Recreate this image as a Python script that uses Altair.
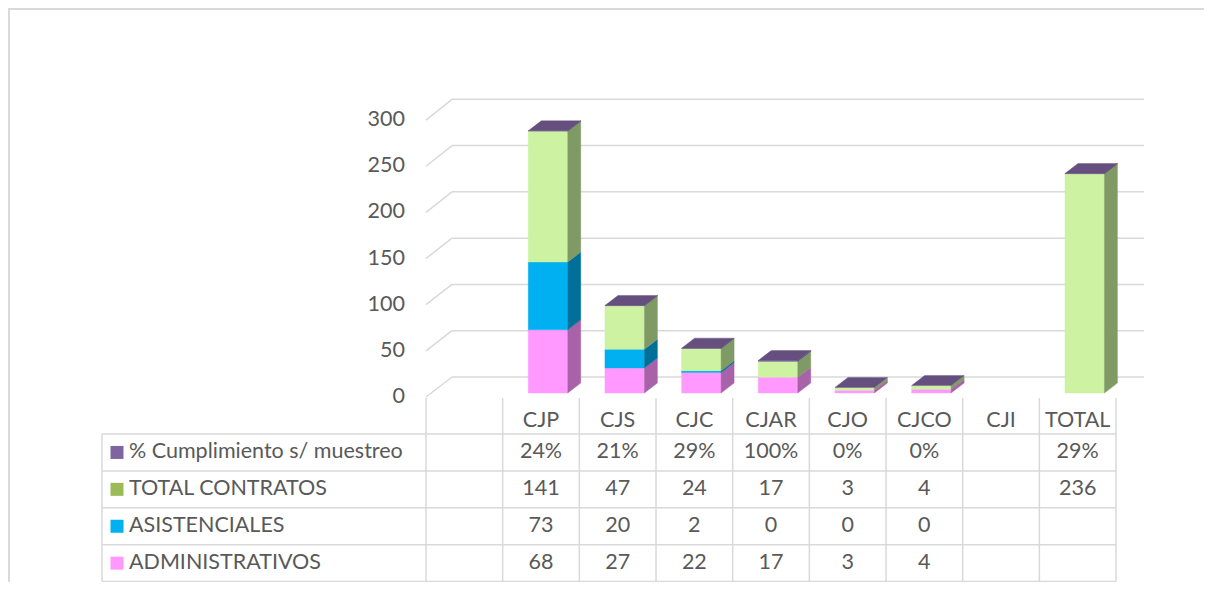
import altair as alt
import pandas as pd

# ---------------- data ----------------
categories = ["", "CJP", "CJS", "CJC", "CJAR", "CJO", "CJCO", "CJI", "TOTAL"]
administrativos = [None, 68, 27, 22, 17, 3, 4, None, None]
asistenciales = [None, 73, 20, 2, 0, 0, 0, None, None]
total_contratos = [None, 141, 47, 24, 17, 3, 4, None, 236]
cumplimiento = [None, 0.24, 0.21, 0.29, 1.00, 0.00, 0.00, None, 0.29]
y_ticks = [0, 50, 100, 150, 200, 250, 300]

# stacking order (bottom -> top)
stack_names = ["ADMINISTRATIVOS", "ASISTENCIALES", "TOTAL CONTRATOS", "% Cumplimiento s/ muestreo"]
stack_values = [administrativos, asistenciales, total_contratos, cumplimiento]
# data-table row order (top -> bottom)
table_names = ["% Cumplimiento s/ muestreo", "TOTAL CONTRATOS", "ASISTENCIALES", "ADMINISTRATIVOS"]

# ---------------- styles ----------------
legend_color = {"% Cumplimiento s/ muestreo": "#8064A2", "TOTAL CONTRATOS": "#9BBB59",
                "ASISTENCIALES": "#00B0F0", "ADMINISTRATIVOS": "#FF99FF"}
front_color = {"% Cumplimiento s/ muestreo": "#8064A2", "TOTAL CONTRATOS": "#CDF2A1",
               "ASISTENCIALES": "#00B0F0", "ADMINISTRATIVOS": "#FF99FF"}
side_color = {"% Cumplimiento s/ muestreo": "#5E4A78", "TOTAL CONTRATOS": "#7F9A64",
              "ASISTENCIALES": "#00709A", "ADMINISTRATIVOS": "#A862A8"}
TOP_COLOR = "#644F7F"
GRID = "#D9D9D9"
TXT = "#595959"
FONT = "Lato"
FS = 21.5

W, H = 1196, 574
COL = 76.67          # px per category column
X0 = 418.0           # plot px of the left edge of the first column
PXU = 0.929          # px per value unit at the bar plane
BASE = 385.0         # plot px of value 0 on the bar plane
DXP, DYP = 13.0, 10.0  # 3D depth offset of the bars (px)
FACE_OFF, FACE_HALF = 7.0, 19.75
T0, RH = 426.0, 36.9  # data table: plot px of first row line, row height

x_scale = alt.Scale(domain=[-X0 / COL, (W - X0) / COL], nice=False, zero=False)
y_scale = alt.Scale(domain=[(BASE - H) / PXU, BASE / PXU], nice=False, zero=False)
r_scale = alt.Scale(domain=[-T0 / RH, (H - T0) / RH], nice=False, zero=False, reverse=True)

DXU = DXP / COL
DYU = DYP / PXU

# ---------------- bar geometry ----------------
fronts, sides, tops = [], [], []
for i, cat in enumerate(categories):
    xl = i + 0.5 + (FACE_OFF - FACE_HALF) / COL
    xr = i + 0.5 + (FACE_OFF + FACE_HALF) / COL
    base = 0.0
    has = False
    for name, vals in zip(stack_names, stack_values):
        v = vals[i]
        if v is None:
            continue
        has = True
        if v > 0:
            sid = f"{cat}-{name}"
            fronts.append(dict(xl=xl, xr=xr, y0=base, y1=base + v, c=front_color[name]))
            sides.append(dict(id=sid, x=xr, lo=base, hi=base + v, c=side_color[name]))
            sides.append(dict(id=sid, x=xr + DXU, lo=base + DYU, hi=base + v + DYU, c=side_color[name]))
        base += v
    if has:
        tops.append(dict(id=cat, y=base, xa=xl, xb=xr))
        tops.append(dict(id=cat, y=base + DYU, xa=xl + DXU, xb=xr + DXU))

fronts = pd.DataFrame(fronts)
sides = pd.DataFrame(sides)
tops = pd.DataFrame(tops)

# gridlines (perspective: front edge and back wall)
grid = pd.DataFrame({"g": y_ticks})
grid["vf"] = (-4 + 0.923 * grid["g"]) / PXU
grid["vb"] = (16 + 0.9257 * grid["g"]) / PXU
grid["label"] = grid["g"].astype(str)
grid["xf"] = 0.0
grid["xb0"] = 26 / COL
grid["xb1"] = (1144 - 426) / COL
grid["xl"] = -21 / COL

gd = alt.Chart(grid).mark_rule(color=GRID, strokeWidth=1.5).encode(
    x=alt.X("xf:Q", scale=x_scale, axis=None), x2="xb0:Q",
    y=alt.Y("vf:Q", scale=y_scale, axis=None), y2="vb:Q")
gb = alt.Chart(grid).mark_rule(color=GRID, strokeWidth=1.5).encode(
    x=alt.X("xb0:Q", scale=x_scale, axis=None), x2="xb1:Q",
    y=alt.Y("vb:Q", scale=y_scale, axis=None))
gl = alt.Chart(grid).mark_text(align="right", baseline="middle", font=FONT, fontSize=FS, color=TXT).encode(
    x=alt.X("xl:Q", scale=x_scale, axis=None),
    y=alt.Y("vf:Q", scale=y_scale, axis=None), text="label:N")

fr = alt.Chart(fronts).mark_rect(strokeWidth=0.4).encode(
    x=alt.X("xl:Q", scale=x_scale, axis=None), x2="xr:Q",
    y=alt.Y("y0:Q", scale=y_scale, axis=None), y2="y1:Q",
    color=alt.Color("c:N", scale=None), stroke=alt.Stroke("c:N", scale=None))
sd = alt.Chart(sides).mark_area(orient="vertical", strokeWidth=0.4).encode(
    x=alt.X("x:Q", scale=x_scale, axis=None),
    y=alt.Y("hi:Q", scale=y_scale, axis=None), y2="lo:Q",
    detail="id:N", color=alt.Color("c:N", scale=None), stroke=alt.Stroke("c:N", scale=None))
tp = alt.Chart(tops).mark_area(orient="horizontal", color=TOP_COLOR, stroke=TOP_COLOR, strokeWidth=0.4).encode(
    y=alt.Y("y:Q", scale=y_scale, axis=None),
    x=alt.X("xa:Q", scale=x_scale, axis=None), x2="xb:Q",
    detail="id:N")

frame_left = alt.Chart(grid).mark_rule(color=GRID, strokeWidth=1.5).encode(
    x=alt.value(0.75), y=alt.value(0), y2=alt.value(H))
frame_top = alt.Chart(grid).mark_rule(color=GRID, strokeWidth=1.5).encode(
    y=alt.value(0.75), x=alt.value(0), x2=alt.value(W))

plot_layer = alt.layer(frame_left, frame_top, gd, gb, gl, fr, sd, tp)

# ---------------- data table ----------------
U_LEFT = (102 - 426) / COL
U_RIGHT = float(len(categories))
hl = pd.DataFrame({"r": [0, 1, 2, 3, 4]})
hl["u0"] = U_LEFT
hl["u1"] = U_RIGHT
vl = pd.DataFrame({"u": [U_LEFT] + list(range(len(categories) + 1))})
vl["r0"] = [0.0] + [-0.976] * (len(categories) + 1)
vl["r1"] = 4.0

hdr = pd.DataFrame({"u": [i + 0.5 for i in range(len(categories))], "text": categories})
hdr["r"] = -0.36

cells = []
for k, name in enumerate(table_names):
    vals = stack_values[stack_names.index(name)]
    for i, v in enumerate(vals):
        if v is None:
            continue
        t = f"{round(v * 100)}%" if name.startswith("%") else str(int(v))
        cells.append(dict(u=i + 0.5, r=k + 0.5, text=t))
cells = pd.DataFrame(cells)

keys = pd.DataFrame({"name": table_names, "r": [k + 0.5 for k in range(len(table_names))]})
keys["c"] = keys["name"].map(legend_color)
keys["uk"] = (117 - 426) / COL
keys["ut"] = (129 - 426) / COL

t_h = alt.Chart(hl).mark_rule(color=GRID, strokeWidth=1.5).encode(
    x=alt.X("u0:Q", scale=x_scale, axis=None), x2="u1:Q",
    y=alt.Y("r:Q", scale=r_scale, axis=None))
t_v = alt.Chart(vl).mark_rule(color=GRID, strokeWidth=1.5).encode(
    x=alt.X("u:Q", scale=x_scale, axis=None),
    y=alt.Y("r0:Q", scale=r_scale, axis=None), y2="r1:Q")
t_hdr = alt.Chart(hdr).mark_text(baseline="middle", font=FONT, fontSize=FS, color=TXT).encode(
    x=alt.X("u:Q", scale=x_scale, axis=None),
    y=alt.Y("r:Q", scale=r_scale, axis=None), text="text:N")
t_cells = alt.Chart(cells).mark_text(baseline="middle", font=FONT, fontSize=FS, color=TXT).encode(
    x=alt.X("u:Q", scale=x_scale, axis=None),
    y=alt.Y("r:Q", scale=r_scale, axis=None), text="text:N")
t_keys = alt.Chart(keys).mark_square(size=169, opacity=1).encode(
    x=alt.X("uk:Q", scale=x_scale, axis=None),
    y=alt.Y("r:Q", scale=r_scale, axis=None),
    color=alt.Color("c:N", scale=None))
t_lab = alt.Chart(keys).mark_text(align="left", baseline="middle", font=FONT, fontSize=FS, color=TXT).encode(
    x=alt.X("ut:Q", scale=x_scale, axis=None),
    y=alt.Y("r:Q", scale=r_scale, axis=None), text="name:N")

table_layer = alt.layer(t_h, t_v, t_hdr, t_cells, t_keys, t_lab)

chart = alt.layer(plot_layer, table_layer).resolve_scale(y="independent").properties(
    width=W, height=H, autosize=alt.AutoSizeParams(type="none"), padding=0,
    background="white"
).configure_view(stroke=None)

chart.save("out.html", embed_options={"renderer": "svg", "actions": False})
